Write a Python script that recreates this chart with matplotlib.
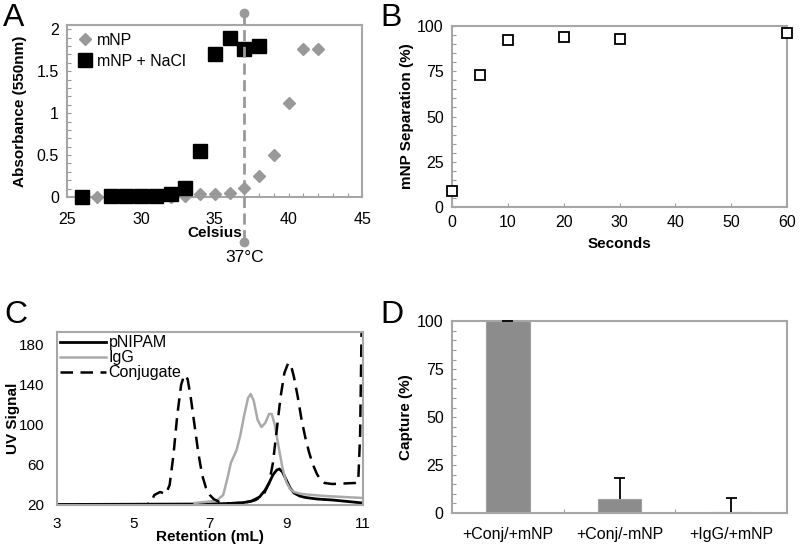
import matplotlib
matplotlib.use('Agg')
from matplotlib import pyplot as plt
from matplotlib import ticker

plt.rcParams['font.family'] = ['Liberation Sans', 'DejaVu Sans']

# panel A: absorbance vs temperature
temp_mnp = [26, 27, 28, 29, 30, 31, 32, 33, 34, 35, 36, 37, 38, 39, 40, 41, 42]
abs_mnp = [0, 0, 0, 0, 0, 0, 0, 0.01, 0.03, 0.03, 0.05, 0.11, 0.25, 0.5, 1.12, 1.76, 1.77]
temp_nacl = [26, 28, 29, 30, 31, 32, 33, 34, 35, 36, 37, 38]
abs_nacl = [0, 0.01, 0.01, 0.01, 0.01, 0.04, 0.11, 0.55, 1.71, 1.9, 1.76, 1.8]
lcst = 37

# panel B: separation vs time
seconds = [0, 5, 10, 20, 30, 60]
separation = [9, 73, 92, 94, 93, 96]

# panel C: chromatograms
ret_pnipam = [3.0, 7.0, 7.5, 7.9, 8.1, 8.3, 8.45, 8.55, 8.65, 8.75, 8.82, 8.9, 9.0,
              9.1, 9.2, 9.35, 9.5, 9.8, 10.2, 10.6, 11.0]
uv_pnipam = [20.5, 21, 21.5, 22.5, 24, 28, 35, 42, 50, 55, 56, 53, 45,
             37, 32, 29, 27.5, 26, 25, 23.5, 22]
ret_igg = [6.6, 7.0, 7.2, 7.35, 7.45, 7.55, 7.7, 7.8, 7.9, 8.0, 8.07, 8.15, 8.25, 8.35,
           8.45, 8.55, 8.62, 8.7, 8.8, 8.9, 9.0, 9.1, 9.2, 9.4, 9.7, 10.0, 10.5, 11.0]
uv_igg = [22, 23.5, 25, 30, 45, 62, 75, 90, 110, 127, 131, 124, 105, 98,
          102, 111, 111, 100, 78, 57, 43, 36, 33, 31, 30, 29, 28, 27]
ret_conj = [3.0, 5.3, 5.45, 5.55, 5.7, 5.85, 5.95, 6.05, 6.15, 6.25, 6.33, 6.42, 6.5,
            6.6, 6.7, 6.8, 6.9, 7.0, 7.1, 7.25, 7.5, 7.8, 8.0, 8.2, 8.4, 8.55, 8.65,
            8.75, 8.85, 8.95, 9.05, 9.12, 9.2, 9.3, 9.4, 9.5, 9.6, 9.7, 9.8, 9.9, 10.0,
            10.2, 10.5, 10.8, 10.88, 10.93, 10.97]
uv_conj = [20, 20, 22, 30, 33, 31, 40, 70, 110, 140, 150, 146, 128,
           100, 72, 50, 37, 30, 26, 23, 21.5, 22, 23, 25, 30, 42, 62,
           95, 128, 152, 162, 160, 148, 128, 105, 87, 72, 60, 51, 45, 42,
           41, 41.5, 42, 43, 90, 200]

# panel D: capture
groups = ['+Conj/+mNP', '+Conj/-mNP', '+IgG/+mNP']
capture = [100, 7.5, 0.5]
capture_err = [0.3, 10.5, 7.3]

frame_col = '#a6a6a6'


def style(ax):
    for s in ax.spines.values():
        s.set_color(frame_col)
        s.set_linewidth(1.5)
    ax.tick_params(which='both', direction='in', color='#999999', labelsize=11.5,
                   length=3, width=0.8, pad=6)


fig = plt.figure(figsize=(8, 5.51), dpi=100)

# ---- A
ax = fig.add_axes([0.084, 0.6425, 0.369, 0.312])
style(ax)
ax.plot(temp_mnp, abs_mnp, 'D', color='#999999', ms=6, label='mNP', clip_on=False, zorder=3)
ax.plot(temp_nacl, abs_nacl, 's', color='black', ms=9.5, label='mNP + NaCl', clip_on=False, zorder=4)
ax.plot([lcst, lcst], [2.19, -0.54], '--', color='#999999', lw=2, dashes=(4, 2), clip_on=False, zorder=5)
ax.plot([lcst, lcst], [2.19, -0.54], 'o', color='#999999', ms=6, clip_on=False, zorder=5)
ax.text(lcst, -0.63, '37°C', ha='center', va='top', fontsize=12.5)
ax.set_xlim(25, 45)
ax.set_ylim(0, 2.05)
ax.set_xticks([25, 30, 35, 40, 45])
ax.set_yticks([0, 0.5, 1, 1.5, 2])
ax.yaxis.set_major_formatter(ticker.FuncFormatter(lambda v, p: '%g' % v))
ax.xaxis.set_minor_locator(ticker.MultipleLocator(1))
ax.yaxis.set_minor_locator(ticker.MultipleLocator(0.1))
ax.tick_params(axis='x', pad=11)
ax.set_xlabel('Celsius', fontweight='bold', fontsize=11, labelpad=-1)
ax.set_ylabel('Absorbance (550nm)', fontweight='bold', fontsize=11, labelpad=7)
leg = ax.legend(loc='upper left', frameon=False, fontsize=11.5, handletextpad=0.15,
                borderaxespad=0.1, labelspacing=0.35, borderpad=0.4, handlelength=1.2)

# ---- B
ax = fig.add_axes([0.565, 0.6243, 0.419, 0.3285])
style(ax)
ax.plot(seconds, separation, 's', mfc='white', mec='black', mew=1.3, ms=7, clip_on=False, zorder=3)
ax.set_xlim(0, 60)
ax.set_ylim(0, 100)
ax.set_xticks(range(0, 61, 10))
ax.set_yticks([0, 25, 50, 75, 100])
ax.yaxis.set_minor_locator(ticker.MultipleLocator(5))
ax.set_xlabel('Seconds', fontweight='bold', fontsize=11, labelpad=5)
ax.set_ylabel('mNP Separation (%)', fontweight='bold', fontsize=11, labelpad=2)

# ---- C
ax = fig.add_axes([0.071, 0.0835, 0.3825, 0.314])
style(ax)
ax.tick_params(labelsize=11, length=0, pad=9)
ax.plot(ret_pnipam, uv_pnipam, color='black', lw=2, label='pNIPAM')
ax.plot(ret_igg, uv_igg, color='#aaaaaa', lw=1.8, label='IgG')
ax.plot(ret_conj, uv_conj, '--', color='black', lw=1.8, dashes=(5, 3), label='Conjugate')
ax.set_xlim(3, 11)
ax.set_ylim(20, 193)
ax.set_xticks([3, 5, 7, 9, 11])
ax.set_yticks([20, 60, 100, 140, 180])
ax.set_xlabel('Retention (mL)', fontweight='bold', fontsize=11, labelpad=-1)
ax.set_ylabel('UV Signal', fontweight='bold', fontsize=11)
ax.yaxis.set_label_coords(-0.12, 0.5)
ax.legend(loc='upper left', bbox_to_anchor=(0, 1.0), frameon=False, fontsize=11.5,
          handlelength=2.9, handletextpad=0.15, borderaxespad=0.0, borderpad=0.2,
          labelspacing=0.0)

# ---- D
ax = fig.add_axes([0.565, 0.069, 0.419, 0.348])
style(ax)
xpos = list(range(len(groups)))
ax.bar(xpos, capture, width=0.39, color='#8c8c8c', edgecolor='#a0a0a0', lw=0.8, zorder=2)
err_top = [c + e for c, e in zip(capture, capture_err)]
ax.vlines(xpos, capture, err_top, color='black', lw=1.3, zorder=3, clip_on=False)
ax.hlines(err_top, [x - 0.05 for x in xpos], [x + 0.05 for x in xpos],
          color='black', lw=1.3, zorder=3, clip_on=False)
ax.set_xlim(-0.5, 2.5)
ax.set_ylim(0, 100)
ax.set_xticks(xpos)
ax.set_xticklabels(groups)
ax.tick_params(axis='x', which='major', length=0, pad=10)
ax.xaxis.set_minor_locator(ticker.FixedLocator([0.5, 1.5]))
ax.set_yticks([0, 25, 50, 75, 100])
ax.yaxis.set_minor_locator(ticker.MultipleLocator(5))
ax.set_ylabel('Capture (%)', fontweight='bold', fontsize=11, labelpad=3)

# panel letters
fig.text(0.004, 0.995, 'A', fontsize=23, va='top')
fig.text(0.476, 0.995, 'B', fontsize=23, va='top')
fig.text(0.006, 0.455, 'C', fontsize=23, va='top')
fig.text(0.476, 0.455, 'D', fontsize=23, va='top')

fig.savefig('out.png', dpi=100)
